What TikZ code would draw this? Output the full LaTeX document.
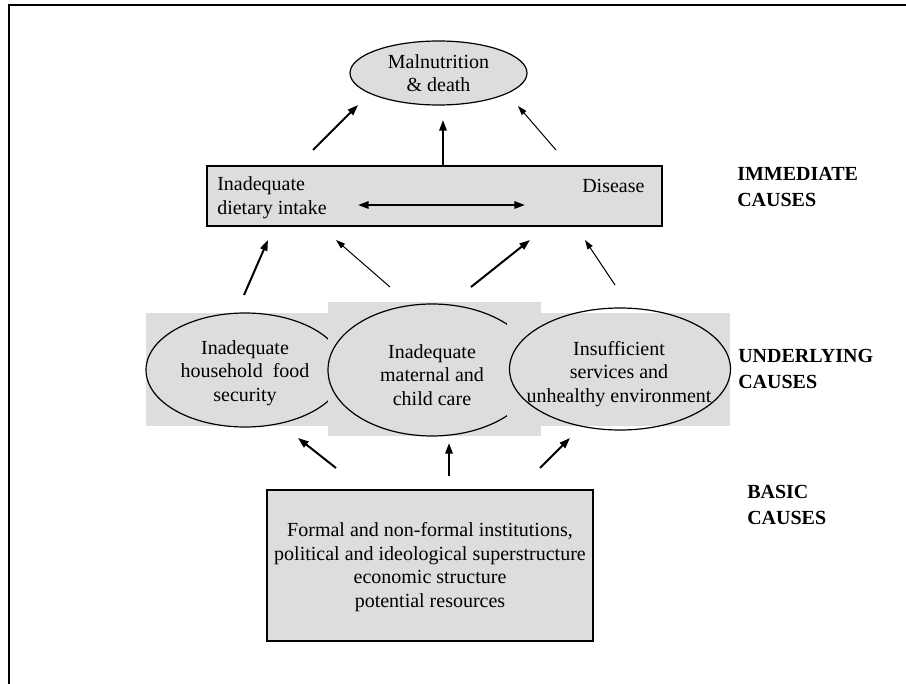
\documentclass[tikz,border=0pt]{standalone}
\usepackage{fontspec}
\setmainfont{Liberation Serif}
\usetikzlibrary{shapes.geometric,arrows.meta}

\definecolor{boxgray}{HTML}{DDDDDD}

\begin{document}
\begin{tikzpicture}[x=0.75pt,y=-0.75pt,
  body/.style={font=\fontsize{15}{17.6}\selectfont, inner sep=0pt},
  lbl/.style={font=\fontsize{15}{19.5}\selectfont\bfseries, align=left, anchor=west, inner sep=0pt},
  oval/.style={draw=black, line width=0.9pt, ellipse, inner sep=0pt},
  panel/.style={fill=boxgray, draw=none, inner sep=0pt},
  framed/.style={fill=boxgray, draw=black, line width=1pt, inner sep=0pt},
  heavy/.style={-{Triangle[length=8pt,width=5.5pt]}, line width=1.5pt},
  light/.style={-{Triangle[length=7pt,width=4.5pt]}, line width=0.75pt},
]
\useasboundingbox (0,0) rectangle (906,684);

% outer frame (top and left rules)
\draw[line width=1.8pt] (9,684) -- (9,5) -- (906,5);

% outcome
\node[oval, fill=boxgray, minimum width=177*0.75pt, minimum height=64*0.75pt]
  (outcome) at (438.5,73) {};
\node[body, align=center, font=\fontsize{15}{17}\selectfont] (outcometext) at (438.5,73)
  {Malnutrition\\\& death};

% immediate causes
\node[framed, minimum width=455*0.75pt, minimum height=60*0.75pt] (immediate) at (434.5,196) {};
\node[body, align=left, anchor=west] (intake) at (217,197.5) {Inadequate\\dietary intake};
\node[body, anchor=west] (disease) at (582,186) {Disease};
\coordinate (dl) at (358,205);
\coordinate (dr) at (525,205);
\draw[line width=1.5pt, {Triangle[length=8pt,width=5.5pt]}-{Triangle[length=8pt,width=5.5pt]}] (dl) -- (dr);

% underlying causes: grey panels with an outline each, the later panel over the earlier
\node[panel, minimum width=196*0.75pt, minimum height=113*0.75pt] (foodbg) at (244,369) {};
\node[oval, minimum width=198*0.75pt, minimum height=114*0.75pt] (food) at (245,370) {};
\node[body, align=center] (foodtext) at (245,373) {Inadequate\\household\ \ food\\security};

\node[panel, minimum width=213*0.75pt, minimum height=134*0.75pt] (carebg) at (434.5,369) {};
\node[oval, minimum width=208*0.75pt, minimum height=132*0.75pt] (care) at (432,370) {};
\node[body, align=center] (caretext) at (432,375) {Inadequate\\maternal and\\child care};

\node[panel, minimum width=223*0.75pt, minimum height=113*0.75pt] (envbg) at (618.5,369) {};
\node[oval, minimum width=221*0.75pt, minimum height=122*0.75pt] (env) at (620,369) {};
\node[body, align=center] (envtext) at (619,374) {Insufficient\\services and\\unhealthy environment};

% basic causes
\node[framed, minimum width=326*0.75pt, minimum height=151*0.75pt] (basic) at (430,565.5) {};
\node[body, align=center] (basictext) at (430,567)
  {Formal and non-formal institutions,\\political and ideological superstructure\\economic structure\\potential resources};

% level labels
\node[lbl] (lblimm) at (737,187) {IMMEDIATE\\CAUSES};
\node[lbl] (lblund) at (738,368.5) {UNDERLYING\\CAUSES};
\node[lbl] (lblbas) at (747,504.5) {BASIC\\CAUSES};

% arrow end points
\coordinate (a1s) at (313,150); \coordinate (a1e) at (358,105);
\coordinate (a2s) at (443,165); \coordinate (a2e) at (443,120);
\coordinate (a3s) at (556,150); \coordinate (a3e) at (518,106);
\coordinate (b1s) at (244,295); \coordinate (b1e) at (268,240);
\coordinate (b2s) at (390,287); \coordinate (b2e) at (336,240);
\coordinate (b3s) at (471,287); \coordinate (b3e) at (530,240);
\coordinate (b4s) at (615,285); \coordinate (b4e) at (585,240);
\coordinate (c1s) at (336,468); \coordinate (c1e) at (298,438);
\coordinate (c2s) at (449,476); \coordinate (c2e) at (449,443);
\coordinate (c3s) at (540,468); \coordinate (c3e) at (570,438);

% arrows towards the outcome
\draw[heavy] (a1s) -- (a1e);
\draw[heavy] (a2s) -- (a2e);
\draw[light] (a3s) -- (a3e);
% arrows towards immediate causes
\draw[heavy] (b1s) -- (b1e);
\draw[light] (b2s) -- (b2e);
\draw[heavy] (b3s) -- (b3e);
\draw[light] (b4s) -- (b4e);
% arrows towards underlying causes
\draw[heavy] (c1s) -- (c1e);
\draw[heavy] (c2s) -- (c2e);
\draw[heavy] (c3s) -- (c3e);
\end{tikzpicture}
\end{document}
